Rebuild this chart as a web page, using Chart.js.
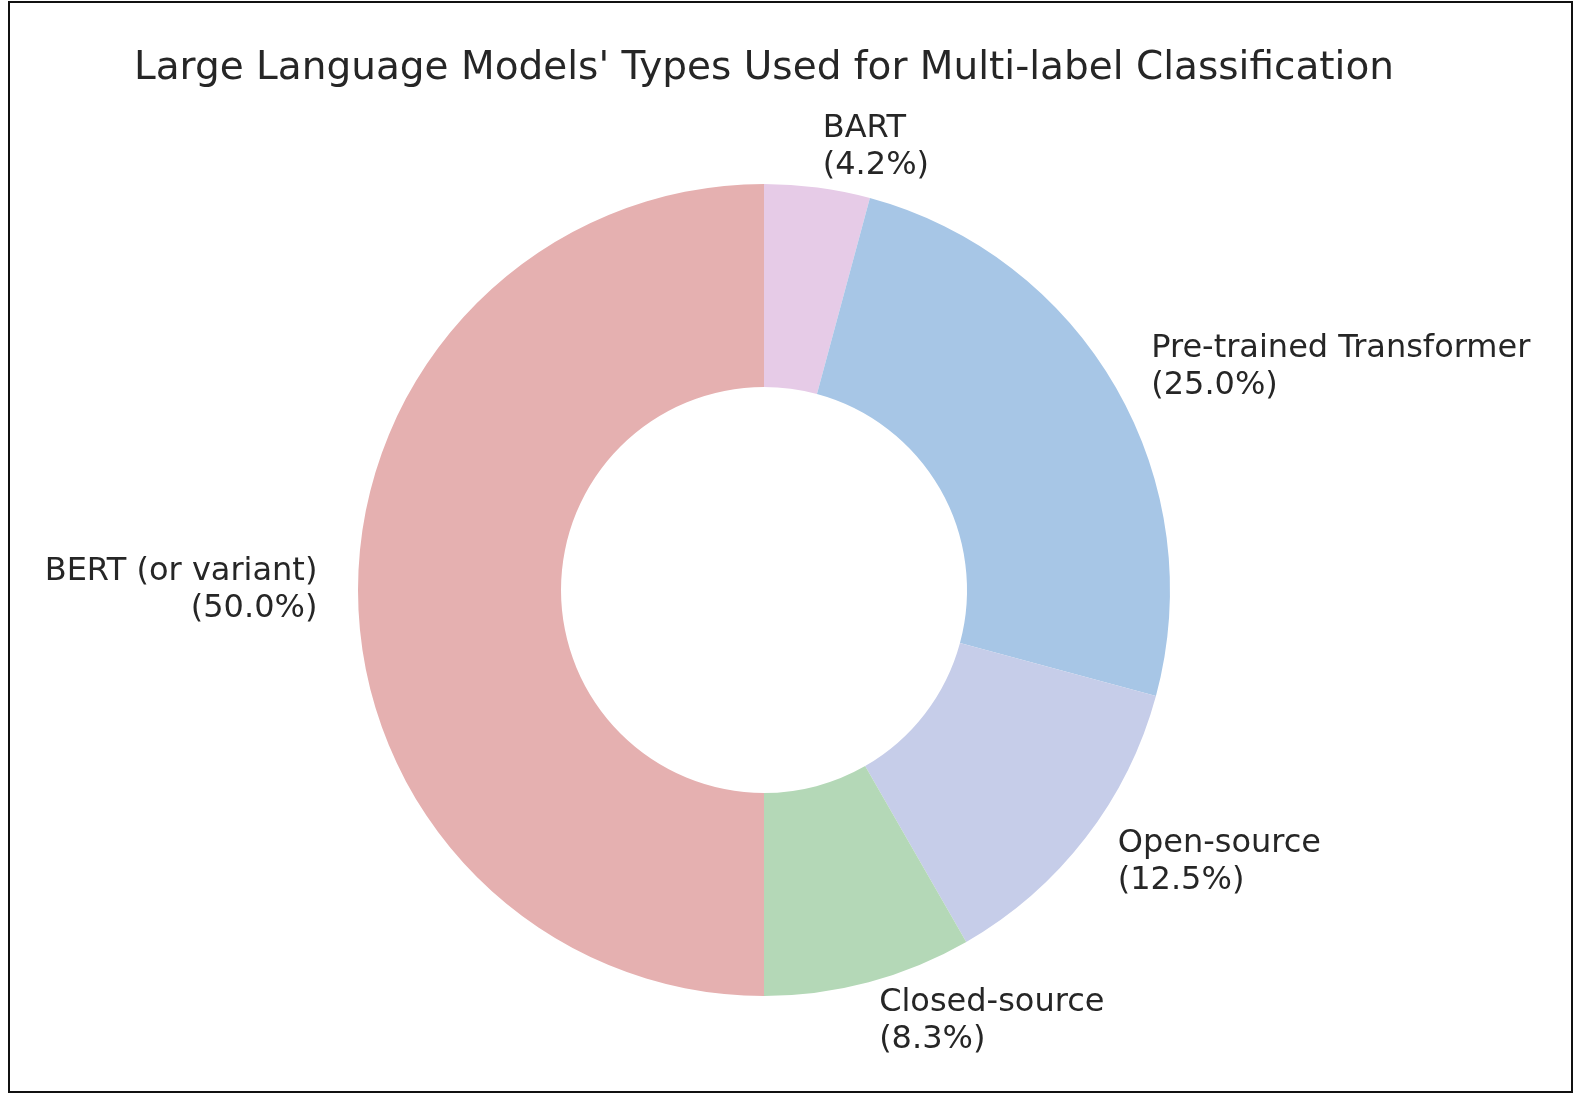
<!DOCTYPE html>
<html>
<head>
<meta charset="utf-8">
<script src="https://cdn.jsdelivr.net/npm/chart.js@4"></script>
<style>
  html, body { margin: 0; padding: 0; background: #fff; overflow: hidden; }
  #wrap { position: relative; width: 1578px; height: 1101px; }
  #frame { position: absolute; left: 8px; top: 1px; width: 1561px; height: 1088px; border: 2px solid #111; pointer-events: none; }
</style>
</head>
<body>
<div id="wrap">
  <canvas id="chart"></canvas>
  <div id="frame"></div>
</div>
<script>
const categories = ['BART', 'Pre-trained Transformer', 'Open-source', 'Closed-source', 'BERT (or variant)'];
const shares = [4.2, 25.0, 12.5, 8.3, 50.0];
const colors = ['#e6cbe7', '#a7c6e6', '#c6cde9', '#b4d8b7', '#e5b0b0'];

const titleText = "Large Language Models' Types Used for Multi-label Classification";

// matplotlib style labels: 1.1 * radius out, text on the outer side
const pieLabels = {
  id: 'pieLabels',
  afterDatasetsDraw(chart) {
    const ctx = chart.ctx;
    const meta = chart.getDatasetMeta(0);
    const total = shares.reduce((a, b) => a + b, 0);
    ctx.save();
    ctx.font = '32px "DejaVu Sans"';
    ctx.fillStyle = '#262626';
    ctx.textBaseline = 'middle';
    meta.data.forEach((arc, i) => {
      const p = arc.getProps(['x', 'y', 'startAngle', 'endAngle', 'outerRadius'], true);
      const mid = (p.startAngle + p.endAngle) / 2;
      const r = p.outerRadius * 1.1;
      const x = p.x + Math.cos(mid) * r;
      const y = p.y + Math.sin(mid) * r;
      ctx.textAlign = Math.cos(mid) >= 0 ? 'left' : 'right';
      const pct = (shares[i] / total * 100).toFixed(1);
      ctx.fillText(categories[i], x, y - 18.5);
      ctx.fillText('(' + pct + '%)', x, y + 18.5);
    });
    ctx.restore();
  }
};

const ctx = document.getElementById('chart').getContext('2d');
new Chart(ctx, {
  type: 'doughnut',
  data: {
    labels: categories,
    datasets: [{
      data: shares,
      backgroundColor: colors,
      borderWidth: 0
    }]
  },
  options: {
    responsive: true,
    maintainAspectRatio: false,
    animation: false,
    cutout: '50%',
    layout: { padding: { left: 0, right: 50, top: 0, bottom: 105 } },
    plugins: {
      legend: { display: false },
      tooltip: { enabled: false },
      title: {
        display: true,
        text: titleText,
        color: '#262626',
        font: { family: 'DejaVu Sans', size: 39, weight: 'normal', lineHeight: 1.2 },
        padding: { top: 45, bottom: 92.2 }
      }
    }
  },
  plugins: [pieLabels]
});
</script>
</body>
</html>
